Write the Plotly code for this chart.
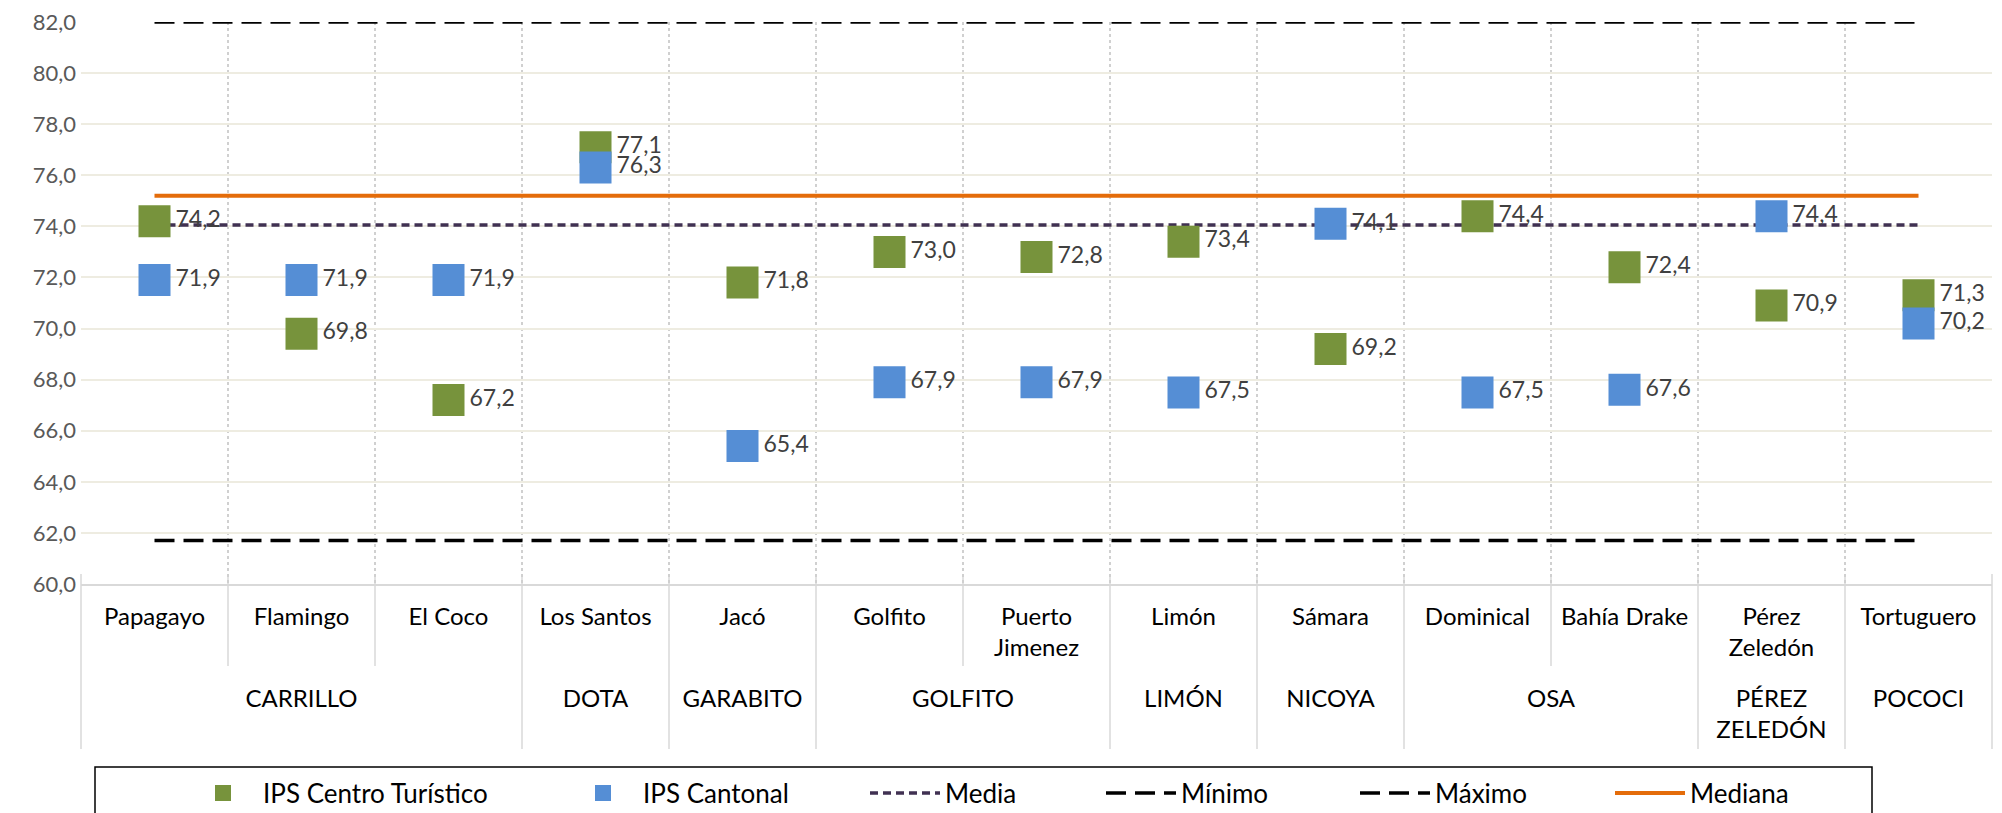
import plotly.graph_objects as go

# ---------------- data ----------------
centros = ["Papagayo", "Flamingo", "El Coco", "Los Santos", "Jacó", "Golfito",
           "Puerto<br>Jimenez", "Limón", "Sámara", "Dominical", "Bahía Drake",
           "Pérez<br>Zeledón", "Tortuguero"]
cantones = ["CARRILLO", "CARRILLO", "CARRILLO", "DOTA", "GARABITO", "GOLFITO",
            "GOLFITO", "LIMÓN", "NICOYA", "OSA", "OSA", "PÉREZ<br>ZELEDÓN", "POCOCI"]
ips_centro = [74.2, 69.8, 67.2, 77.1, 71.8, 73.0, 72.8, 73.4, 69.2, 74.4, 72.4, 70.9, 71.3]
ips_cantonal = [71.9, 71.9, 71.9, 76.3, 65.4, 67.9, 67.9, 67.5, 74.1, 67.5, 67.6, 74.4, 70.2]
media = 74.05
minimo = 61.7
maximo = 82.0
mediana = 75.2
y_min, y_max, y_step = 60, 82, 2

# ---------------- layout geometry ----------------
W, H = 2002, 813
ML, MR, MT, MB = 81, 10, 22, 229
PW = W - ML - MR
PH = H - MT - MB

def px_x(p):
    return (p - ML) / PW

def px_y(p):
    return (H - MB - p) / PH

FONT = "Lato, Carlito, 'Open Sans', sans-serif"
GREEN = "#77933C"
BLUE = "#558ED5"
n = len(centros)

# group (cantón) centres on the category index scale
group_names, group_centers = [], []
start = 0
for i in range(1, n + 1):
    if i == n or cantones[i] != cantones[start]:
        group_names.append(cantones[start])
        group_centers.append((start + i - 1) / 2)
        start = i

fig = go.Figure()

line_specs = [
    ("Media", media, dict(color="#403152", width=3.5, dash="8px,5px"), "legend3", 865),
    ("Mínimo", minimo, dict(color="#000000", width=3.5, dash="20px,9px"), "legend4", 1101),
    ("Máximo", maximo, dict(color="#000000", width=3.5, dash="20px,9px"), "legend5", 1355),
    ("Mediana", mediana, dict(color="#E46C0A", width=4), "legend6", 1610),
]
for name, val, ln, lg, _ in line_specs:
    fig.add_trace(go.Scatter(
        x=centros, y=[val] * n, mode="lines", name=name, line=ln,
        legend=lg, hoverinfo="skip"))

for name, vals, col, lg in [("IPS Centro Turístico", ips_centro, GREEN, "legend"),
                            ("IPS Cantonal", ips_cantonal, BLUE, "legend2")]:
    fig.add_trace(go.Scatter(
        x=centros, y=vals, mode="markers+text", name=name,
        marker=dict(symbol="square", size=32, color=col),
        texttemplate="%{y:.1f}", textposition="middle right",
        textfont=dict(family=FONT, size=23, color="#404040"),
        legend=lg, cliponaxis=False))

# empty trace so the cantón axis is created
fig.add_trace(go.Scatter(x=[], y=[], xaxis="x2", yaxis="y", showlegend=False,
                         hoverinfo="skip"))

# legends (one per entry, to reproduce spacing)
leg_pos = {"legend": 183, "legend2": 563}
for _, _, _, lg, p in line_specs:
    leg_pos[lg] = p
leg_y = px_y(793)
legends = {}
for lg, p in leg_pos.items():
    legends[lg] = dict(x=px_x(p), y=leg_y, xanchor="left", yanchor="middle",
                       orientation="h", bgcolor="rgba(0,0,0,0)", borderwidth=0,
                       itemwidth=70, font=dict(family=FONT, size=26, color="#000000"),
                       itemclick=False, itemdoubleclick=False)

# separators under the x axis
shapes = []
top_ext = px_y(H - MB - 10)
inner_bot = px_y(666)
outer_bot = px_y(749)
for k in range(n + 1):
    is_group = (k == 0 or k == n or cantones[k] != cantones[k - 1])
    shapes.append(dict(type="line", xref="paper", yref="paper",
                       x0=k / n, x1=k / n, y0=top_ext,
                       y1=outer_bot if is_group else inner_bot,
                       line=dict(color="#D9D9D9", width=1.5), layer="below"))
# legend frame
shapes.append(dict(type="rect", xref="paper", yref="paper",
                   x0=px_x(95), x1=px_x(1872), y0=px_y(767), y1=px_y(840),
                   line=dict(color="#000000", width=1.5), fillcolor="rgba(0,0,0,0)"))

fig.update_layout(
    width=W, height=H,
    margin=dict(l=ML, r=MR, t=MT, b=MB, autoexpand=False),
    paper_bgcolor="white", plot_bgcolor="white",
    separators=",.",
    font=dict(family=FONT, size=22, color="#000000"),
    showlegend=True,
    shapes=shapes,
    **legends,
    xaxis=dict(
        type="category", range=[-0.5, n - 0.5], tickson="boundaries",
        showgrid=True, gridcolor="#D0D0D0", griddash="dot", gridwidth=1.5,
        showline=True, linecolor="#D9D9D9", linewidth=2,
        ticks="", ticklabelstandoff=10,
        tickfont=dict(family=FONT, size=24, color="#000000"),
        zeroline=False, fixedrange=True,
    ),
    xaxis2=dict(
        overlaying="x", anchor="y", side="bottom", type="linear",
        range=[-0.5, n - 0.5], tickmode="array",
        tickvals=group_centers, ticktext=group_names,
        showgrid=False, showline=False, zeroline=False, ticks="",
        ticklabelstandoff=98,
        tickfont=dict(family=FONT, size=24, color="#000000"),
        fixedrange=True,
    ),
    yaxis=dict(
        range=[y_min, y_max],
        tickmode="array",
        tickvals=list(range(y_min, y_max + 1, y_step)),
        tickformat=".1f",
        showgrid=True, gridcolor="#EEECE1", gridwidth=1.5,
        showline=False, zeroline=False,
        tickfont=dict(family=FONT, size=22, color="#595959"),
        ticklabelstandoff=4,
        fixedrange=True,
    ),
)

fig.write_html("out.html", config={"displayModeBar": False},
               post_script="document.body.style.margin='0';")
